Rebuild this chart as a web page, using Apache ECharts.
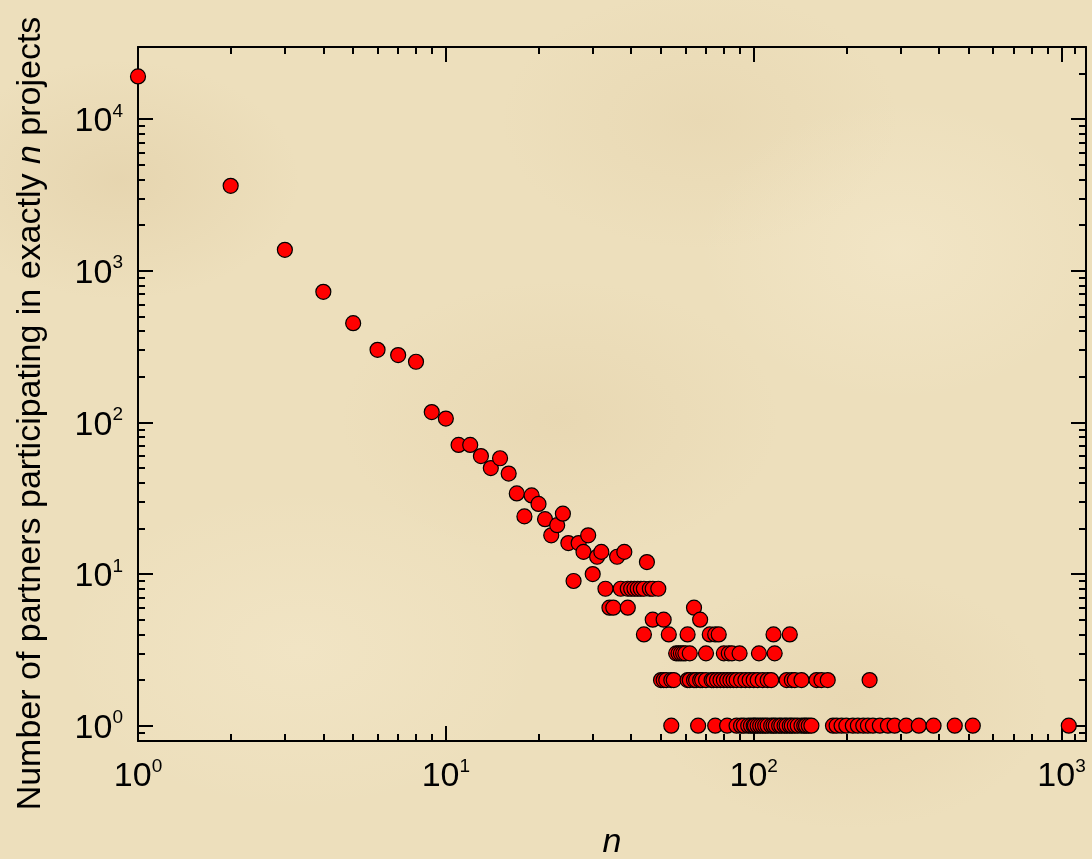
<!DOCTYPE html>
<html>
<head>
<meta charset="utf-8">
<script src="https://cdn.jsdelivr.net/npm/echarts@6.0.0/dist/echarts.min.js"></script>
<style>
  html, body { margin: 0; padding: 0; }
  body {
    background-color: #eddfbc;
    background-image:
      radial-gradient(ellipse 180px 120px at 120px 180px, rgba(200,170,120,0.18), rgba(200,170,120,0) 100%),
      radial-gradient(ellipse 220px 140px at 560px 420px, rgba(205,175,125,0.14), rgba(205,175,125,0) 100%),
      radial-gradient(ellipse 200px 150px at 900px 250px, rgba(250,240,215,0.35), rgba(250,240,215,0) 100%),
      radial-gradient(ellipse 240px 160px at 300px 650px, rgba(250,240,215,0.30), rgba(250,240,215,0) 100%),
      radial-gradient(ellipse 200px 130px at 850px 700px, rgba(205,175,125,0.14), rgba(205,175,125,0) 100%),
      radial-gradient(ellipse 200px 130px at 700px 120px, rgba(205,175,125,0.12), rgba(205,175,125,0) 100%);
  }
  #chart { width: 1092px; height: 859px; }
</style>
</head>
<body>
<div id="chart"></div>
<script>
// ---- data (n = number of projects, count = partners) ----
const headN      = [1, 2, 3, 4, 5, 6, 7, 8, 9, 10, 11, 12, 13, 14, 15, 16, 17, 18, 19, 20, 21, 22, 23, 24, 25, 26, 27, 28, 29, 30, 31, 32, 36, 38, 45];
const headCounts = [19100, 3630, 1374, 726, 451, 301, 278, 251, 117, 106, 71, 71, 60, 50, 58, 46, 34, 24, 33, 29, 23, 18, 21, 25, 16, 9, 16, 14, 18, 10, 13, 14, 13, 14, 12];

const nWithCount8 = [33, 37, 39, 40, 41, 42, 43, 44, 46, 47, 49];
const nWithCount6 = [34, 35, 39, 64];
const nWithCount5 = [47, 51, 67];
const nWithCount4 = [44, 53, 61, 72, 75, 77, 116, 131];
const nWithCount3 = [56, 57, 58, 59, 60, 62, 70, 80, 83, 85, 90, 104, 117];
const nWithCount2 = [50, 51, 52, 54, 55, 61, 62, 64, 65, 67, 68, 70, 73, 74, 76, 78, 80, 82, 84, 86, 88, 91, 94, 97, 100, 103, 107, 111, 114, 128, 133, 136, 143, 160, 166, 174, 238];
const nWithCount1 = [54, 66, 75, 82, 88, 91, 93, 96, 98, 100, 101, 103, 105, 107, 109, 111, 114, 116, 118, 121, 123, 126, 128, 131, 133, 136, 139, 143, 146, 148, 151, 154, 181, 186, 193, 200, 210, 218, 227, 235, 244, 257, 273, 287, 313, 344, 384, 450, 515, 1056];

// axis ranges (raw values) and tick values (as powers / raw positions)
const xRange = [1, 1201];
const yRange = [0.793, 29850];
const xMajorExponents = [0, 1, 2, 3];
const yMajorExponents = [0, 1, 2, 3, 4];
const xMinorTickValues = [2, 3, 4, 5, 6, 7, 8, 9, 20, 30, 40, 50, 60, 70, 80, 90, 200, 300, 400, 500, 600, 700, 800, 900, 1100];
const yMinorTickValues = [0.9, 2, 3, 4, 5, 6, 7, 8, 9, 20, 30, 40, 50, 60, 70, 80, 90, 200, 300, 400, 500, 600, 700, 800, 900, 2000, 3000, 4000, 5000, 6000, 7000, 8000, 9000, 20000];

// ---- build ----
const points = [];
headN.forEach((n, i) => points.push([n, headCounts[i]]));
[[8, nWithCount8], [6, nWithCount6], [5, nWithCount5], [4, nWithCount4], [3, nWithCount3], [2, nWithCount2], [1, nWithCount1]]
  .forEach(([c, arr]) => arr.forEach(n => points.push([n, c])));
points.sort((a, b) => a[0] - b[0]);
const seriesData = points.map(p => [Math.log10(p[0]), Math.log10(p[1])]);

const FONT = "'Liberation Sans', Arial, sans-serif";
const X_MIN = Math.log10(xRange[0]), X_MAX = Math.log10(xRange[1]);
const Y_MIN = Math.log10(yRange[0]), Y_MAX = Math.log10(yRange[1]);
const xMinor = xMinorTickValues.map(v => Math.log10(v));
const yMinor = yMinorTickValues.map(v => Math.log10(v));

const labelRich = {
  b: { fontSize: 34, lineHeight: 34, padding: [6, 0, 0, 0], fontFamily: FONT, color: '#000' },
  s: { fontSize: 19, lineHeight: 19, verticalAlign: 'top', fontFamily: FONT, color: '#000' }
};
const powLabel = v => '{b|10}{s|' + Math.round(v) + '}';
const lineStyle = { color: '#000', width: 2 };

function makeAxis(kind, position, major, showLabel, extra) {
  const isX = kind === 'x';
  const ax = {
    type: 'value',
    position: position,
    min: isX ? X_MIN : Y_MIN,
    max: isX ? X_MAX : Y_MAX,
    axisLine: { show: major, onZero: false, lineStyle: lineStyle },
    axisTick: {
      show: true, inside: true, length: major ? 15 : 7,
      customValues: major ? (isX ? xMajorExponents : yMajorExponents) : (isX ? xMinor : yMinor),
      lineStyle: lineStyle
    },
    axisLabel: showLabel ? {
      customValues: isX ? xMajorExponents : yMajorExponents,
      formatter: powLabel, rich: labelRich, margin: isX ? 16 : 15
    } : { show: false },
    splitLine: { show: false }
  };
  return Object.assign(ax, extra || {});
}

const option = {
  backgroundColor: 'transparent',
  animation: false,
  grid: { left: 138, top: 47, width: 948, height: 694, outerBoundsMode: 'none' },
  xAxis: [
    makeAxis('x', 'bottom', true, true, {
      name: 'n', nameLocation: 'middle', nameGap: 85,
      nameTextStyle: { fontSize: 34, lineHeight: 34, fontStyle: 'italic', fontFamily: FONT, color: '#000' }
    }),
    makeAxis('x', 'bottom', false, false),
    makeAxis('x', 'top', true, false),
    makeAxis('x', 'top', false, false)
  ],
  yAxis: [
    makeAxis('y', 'left', true, true, {
      name: 'Number of partners participating in exactly {i|n} projects',
      nameLocation: 'middle', nameGap: 90, nameRotate: 90,
      nameTextStyle: {
        fontSize: 34, lineHeight: 34, fontFamily: FONT, color: '#000', padding: [0, 39, 0, 0],
        rich: { i: { fontSize: 34, lineHeight: 34, fontStyle: 'italic', fontFamily: FONT, color: '#000' } }
      }
    }),
    makeAxis('y', 'left', false, false),
    makeAxis('y', 'right', true, false),
    makeAxis('y', 'right', false, false)
  ],
  series: [{
    type: 'scatter',
    xAxisIndex: 0, yAxisIndex: 0,
    data: seriesData,
    symbol: 'circle',
    symbolSize: 15,
    itemStyle: { color: '#ff0000', borderColor: '#000', borderWidth: 1.2, opacity: 1 },
    emphasis: { disabled: true },
    z: 3
  }]
};

const chart = echarts.init(document.getElementById('chart'), null, { renderer: 'canvas' });
chart.setOption(option);
</script>
</body>
</html>
